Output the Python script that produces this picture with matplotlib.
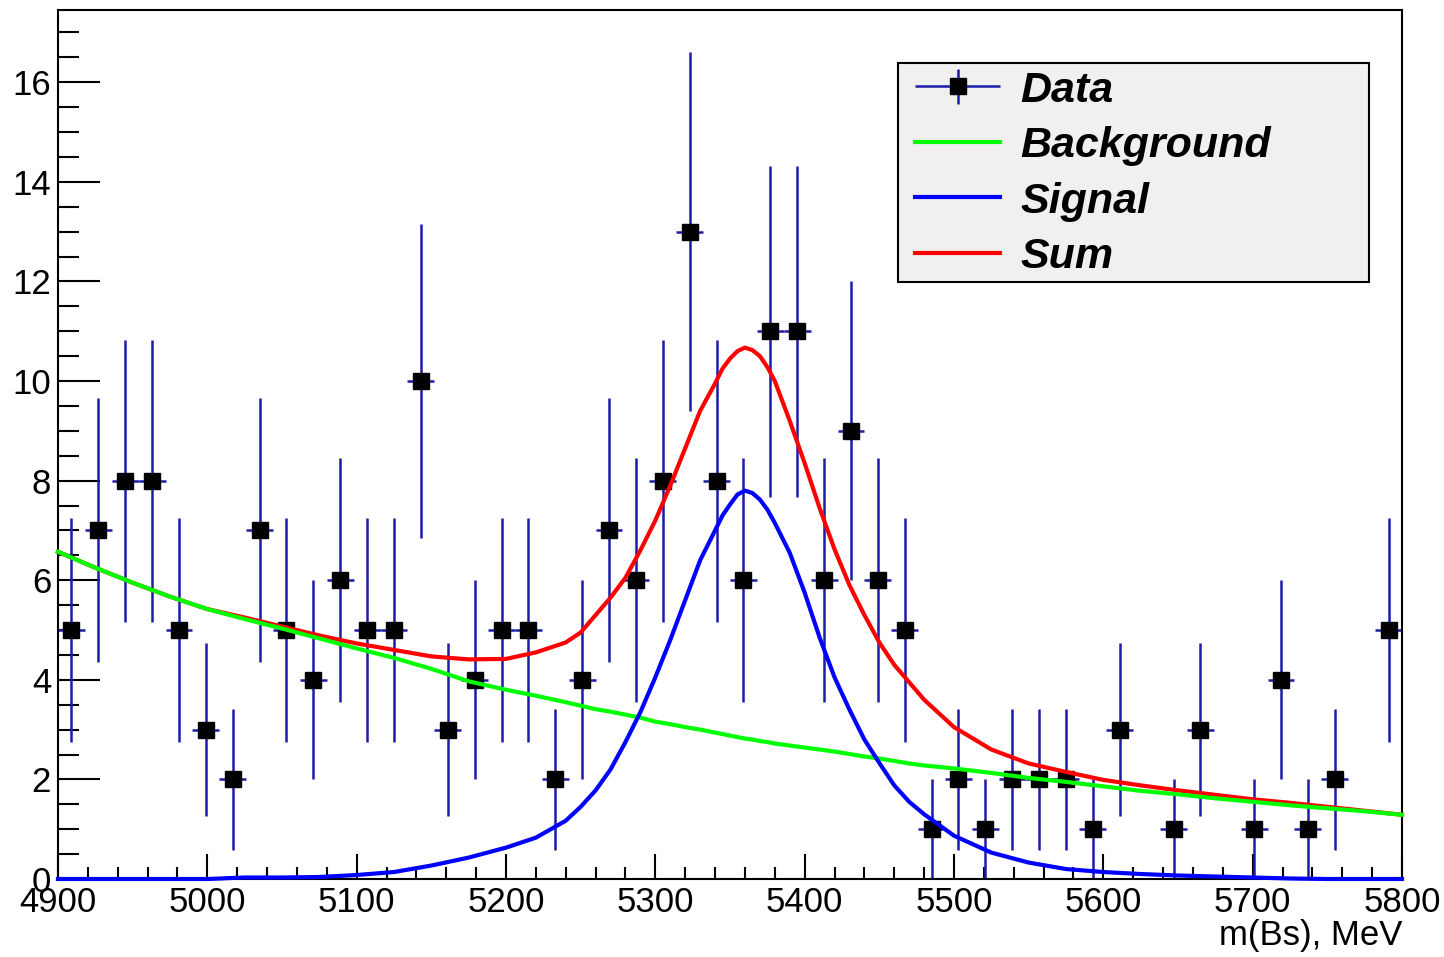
import matplotlib
matplotlib.use('Agg')
import matplotlib.pyplot as plt
import numpy as np
from matplotlib.ticker import MultipleLocator
from matplotlib.legend_handler import HandlerErrorbar
from matplotlib.container import ErrorbarContainer
from matplotlib.patches import Rectangle

plt.rcParams['font.family'] = ['Liberation Sans', 'DejaVu Sans']

# histogram: 50 bins of 18 MeV between 4900 and 5800
bin_centers = [4909, 4927, 4945, 4963, 4981, 4999, 5017, 5035, 5053, 5071,
               5089, 5107, 5125, 5143, 5161, 5179, 5197, 5215, 5233, 5251,
               5269, 5287, 5305, 5323, 5341, 5359, 5377, 5395, 5413, 5431,
               5449, 5467, 5485, 5503, 5521, 5539, 5557, 5575, 5593, 5611,
               5629, 5647, 5665, 5683, 5701, 5719, 5737, 5755, 5773, 5791]
counts = [5, 7, 8, 8, 5, 3, 2, 7, 5, 4,
          6, 5, 5, 10, 3, 4, 5, 5, 2, 4,
          7, 6, 8, 13, 8, 6, 11, 11, 6, 9,
          6, 5, 1, 2, 1, 2, 2, 2, 1, 3,
          0, 1, 3, 0, 1, 4, 1, 2, 0, 5]
errors = [2.24, 2.65, 2.83, 2.83, 2.24, 1.73, 1.41, 2.65, 2.24, 2.0,
          2.45, 2.24, 2.24, 3.16, 1.73, 2.0, 2.24, 2.24, 1.41, 2.0,
          2.65, 2.45, 2.83, 3.61, 2.83, 2.45, 3.32, 3.32, 2.45, 3.0,
          2.45, 2.24, 1.0, 1.41, 1.0, 1.41, 1.41, 1.41, 1.0, 1.73,
          0.0, 1.0, 1.73, 0.0, 1.0, 2.0, 1.0, 1.41, 0.0, 2.24]
half_bin = 9

# fitted curves
curve_mass = [4900, 4925, 4950, 4975, 5000, 5025, 5050, 5075, 5100, 5125,
              5150, 5175, 5200, 5220, 5240, 5250, 5260, 5270, 5280, 5290,
              5300, 5310, 5320, 5330, 5340, 5345, 5350, 5355, 5360, 5365,
              5370, 5375, 5380, 5390, 5400, 5410, 5420, 5430, 5440, 5450,
              5460, 5470, 5480, 5500, 5525, 5550, 5575, 5600, 5625, 5650,
              5675, 5700, 5725, 5750, 5775, 5800]
background = [6.57, 6.25, 5.95, 5.67, 5.42, 5.22, 5.03, 4.83, 4.63, 4.44,
              4.22, 3.97, 3.80, 3.68, 3.55, 3.48, 3.41, 3.36, 3.30, 3.24,
              3.16, 3.11, 3.05, 3.00, 2.94, 2.91, 2.88, 2.85, 2.82, 2.80,
              2.77, 2.75, 2.72, 2.68, 2.64, 2.60, 2.56, 2.51, 2.46, 2.42,
              2.37, 2.32, 2.28, 2.22, 2.13, 2.03, 1.95, 1.86, 1.77, 1.70,
              1.62, 1.55, 1.48, 1.42, 1.36, 1.29]
signal = [0.0, 0.0, 0.0, 0.0, 0.0, 0.03, 0.03, 0.04, 0.08, 0.14,
          0.27, 0.43, 0.63, 0.83, 1.17, 1.45, 1.78, 2.2, 2.75, 3.35,
          4.05, 4.8, 5.6, 6.4, 7.0, 7.3, 7.52, 7.72, 7.8, 7.75,
          7.62, 7.42, 7.15, 6.55, 5.75, 4.85, 4.05, 3.4, 2.8, 2.33,
          1.88, 1.55, 1.3, 0.87, 0.53, 0.33, 0.2, 0.14, 0.1, 0.07,
          0.05, 0.03, 0.01, 0.0, 0.0, 0.0]
total = [6.57, 6.25, 5.95, 5.67, 5.42, 5.25, 5.07, 4.89, 4.73, 4.6,
         4.47, 4.41, 4.42, 4.55, 4.75, 4.95, 5.3, 5.65, 6.05, 6.6,
         7.2, 7.9, 8.65, 9.4, 9.95, 10.25, 10.45, 10.6, 10.67, 10.62,
         10.5, 10.28, 10.0, 9.2, 8.35, 7.45, 6.62, 5.9, 5.3, 4.75,
         4.3, 3.95, 3.6, 3.05, 2.6, 2.32, 2.15, 1.99, 1.88, 1.78,
         1.69, 1.6, 1.53, 1.45, 1.37, 1.29]

W, H = 1444, 957
fig = plt.figure(figsize=(W / 100, H / 100), dpi=100)
ax = fig.add_axes([58 / W, 78 / H, 1344 / W, 869 / H])

# only non-empty bins are drawn
x = np.array(bin_centers)
y = np.array(counts)
e = np.array(errors)
keep = y > 0
data = ax.errorbar(x[keep], y[keep], yerr=e[keep], xerr=half_bin, fmt='s',
                   color='black', ms=11, ecolor='#1c1ca8', elinewidth=1.8,
                   capsize=0, zorder=2, label='Data')

red, = ax.plot(curve_mass, total, color='#ff0000', lw=3, zorder=3,
               clip_on=False, label='Sum')
green, = ax.plot(curve_mass, background, color='#00ff00', lw=3, zorder=4,
                 clip_on=False, label='Background')
blue, = ax.plot(curve_mass, signal, color='#0000ff', lw=3, zorder=5,
                clip_on=False, label='Signal')

ax.set_xlim(4900, 5800)
ax.set_ylim(0, 17.45)
ax.xaxis.set_major_locator(MultipleLocator(100))
ax.xaxis.set_minor_locator(MultipleLocator(20))
ax.yaxis.set_major_locator(MultipleLocator(2))
ax.yaxis.set_minor_locator(MultipleLocator(0.5))
ax.tick_params(which='both', direction='in', width=1.5, labelsize=25,
               top=False, right=False)
ax.tick_params(axis='y', which='major', length=30, pad=5)
ax.tick_params(axis='y', which='minor', length=15)
ax.tick_params(axis='x', which='major', length=18, pad=5)
ax.tick_params(axis='x', which='minor', length=9)
for s in ax.spines.values():
    s.set_linewidth(1.5)

fig.text(1402 / W, (H - 919) / H, 'm(Bs), MeV', ha='right', va='top',
         fontsize=25)

# legend box (ROOT style grey pave) with the legend entries on top
box = Rectangle((898 / W, (H - 282) / H), 471 / W, 219 / H,
                transform=fig.transFigure, facecolor='#f0f0f0',
                edgecolor='black', linewidth=1.5, zorder=9)
fig.add_artist(box)
leg = fig.legend([data, green, blue, red], ['Data', 'Background', 'Signal', 'Sum'],
                 handler_map={ErrorbarContainer: HandlerErrorbar(xerr_size=0.98, yerr_size=0.4)},
                 loc='upper left', bbox_to_anchor=(915 / W, (H - 70.5) / H),
                 bbox_transform=fig.transFigure, borderaxespad=0, borderpad=0,
                 prop={'size': 31, 'weight': 'bold', 'style': 'italic'},
                 handlelength=1.98, handletextpad=0.47, labelspacing=0.36,
                 frameon=False)
leg.set_zorder(10)

plt.savefig('out.png', dpi=100)
plt.close()
